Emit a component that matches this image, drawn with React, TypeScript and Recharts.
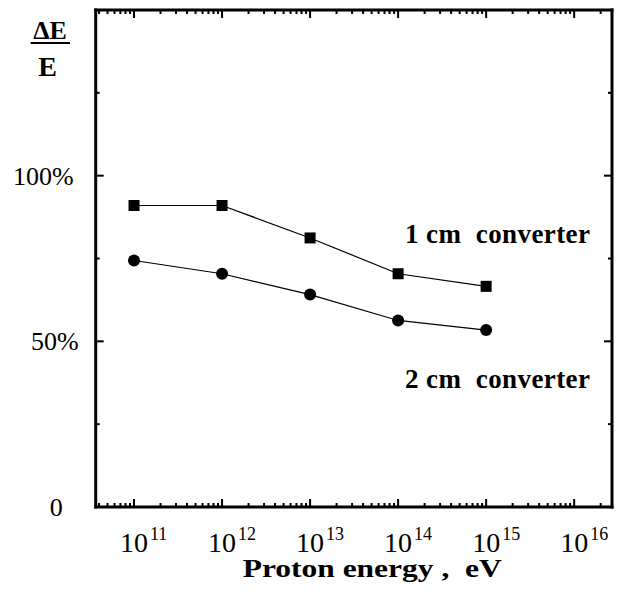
import React from 'react';
import { LineChart, Line, XAxis, YAxis } from 'recharts';

// ---- data ----
const energies = [1e11, 1e12, 1e13, 1e14, 1e15];
const oneCmValues = [91, 91, 81.2, 70.4, 66.6];
const twoCmValues = [74.4, 70.4, 64.1, 56.3, 53.4];

const xMajorTicks = [1e11, 1e12, 1e13, 1e14, 1e15, 1e16];
const xTickExponents = ['11', '12', '13', '14', '15', '16'];
const yMajorTicks = [0, 50, 100];
const yTickLabels = ['0', '50%', '100%'];
const yMinorTicks = [25, 75, 125];

const seriesLabels = ['1 cm  converter', '2 cm  converter'];
const xAxisTitle = 'Proton energy ,  eV';

const X_DOMAIN: [number, number] = [3.67e10, 2.69e16];
const Y_DOMAIN: [number, number] = [0, 150];

const data = energies.map((e, i) => ({ energy: e, oneCm: oneCmValues[i], twoCm: twoCmValues[i] }));

const xMinorTicks: number[] = [];
for (let n = 10; n <= 16; n++) {
  for (let k = 2; k <= 9; k++) {
    const v = k * Math.pow(10, n);
    if (v > X_DOMAIN[0] && v < X_DOMAIN[1]) xMinorTicks.push(v);
  }
}
const xAllTicks = [...xMajorTicks, ...xMinorTicks].sort((a, b) => a - b);
const yAllTicks = [...yMajorTicks, ...yMinorTicks, 150].sort((a, b) => a - b);

const FONT = 'Liberation Serif';
const W = 615;
const H = 585;

const preStyle = { whiteSpace: 'pre' as const };

// per-label right-edge offset from axis line (layout only)
const yLabelOffset: Record<number, number> = { 0: 33, 50: 17, 100: 22 };

const BottomTick = (props: any) => {
  const { x, y, payload } = props;
  const v = payload.value;
  const idx = xMajorTicks.indexOf(v);
  const major = idx >= 0;
  return (
    <g>
      <line x1={x} x2={x} y1={y} y2={y - (major ? 8 : 4)} stroke="#000" strokeWidth={2} />
      {major && (
        <text x={x - 14} y={y + 45} fontFamily={FONT} fontSize={28} fill="#000">
          10
          <tspan dx={2} dy={-12} fontSize={18}>{xTickExponents[idx]}</tspan>
        </text>
      )}
    </g>
  );
};

const TopTick = (props: any) => {
  const { x, y, payload } = props;
  const major = xMajorTicks.indexOf(payload.value) >= 0;
  return <line x1={x} x2={x} y1={y} y2={y + (major ? 8 : 4)} stroke="#000" strokeWidth={2} />;
};

const LeftTick = (props: any) => {
  const { x, y, payload } = props;
  const v = payload.value;
  if (v === 150) return <g />;
  const idx = yMajorTicks.indexOf(v);
  const major = idx >= 0;
  return (
    <g>
      {v !== 0 && <line x1={x} x2={x + (major ? 8 : 4)} y1={y} y2={y} stroke="#000" strokeWidth={2} />}
      {major && (
        <text x={x - yLabelOffset[v]} y={y + 9} textAnchor="end" fontFamily={FONT} fontSize={26} fill="#000">
          {yTickLabels[idx]}
        </text>
      )}
    </g>
  );
};

const RightTick = (props: any) => {
  const { x, y, payload } = props;
  const v = payload.value;
  if (v === 0 || v === 150) return <g />;
  const major = yMajorTicks.indexOf(v) >= 0;
  return <line x1={x} x2={x - (major ? 8 : 4)} y1={y} y2={y} stroke="#000" strokeWidth={2} />;
};

const SquareDot = (props: any) => {
  const { cx, cy, index } = props;
  if (cx == null || cy == null) return <g key={`s${index}`} />;
  return <rect key={`s${index}`} x={cx - 5.5} y={cy - 5.5} width={11} height={11} fill="#000" />;
};

const CircleDot = (props: any) => {
  const { cx, cy, index } = props;
  if (cx == null || cy == null) return <g key={`c${index}`} />;
  return <circle key={`c${index}`} cx={cx} cy={cy} r={6} fill="#000" />;
};

const axisLineStyle = { stroke: '#000', strokeWidth: 3, strokeLinecap: 'square' as const };

export default function App() {
  return (
    <div style={{ position: 'relative', width: W, height: H }}>
      <LineChart width={W} height={H} data={data} margin={{ top: 0, right: 0, bottom: 0, left: 0 }}>
        <XAxis
          xAxisId="bottom"
          dataKey="energy"
          type="number"
          scale="log"
          domain={X_DOMAIN}
          allowDataOverflow
          ticks={xAllTicks}
          interval={0}
          height={86}
          tickSize={0}
          tickMargin={0}
          tickLine={false}
          axisLine={axisLineStyle}
          tick={<BottomTick />}
        />
        <XAxis
          xAxisId="top"
          orientation="top"
          dataKey="energy"
          type="number"
          scale="log"
          domain={X_DOMAIN}
          allowDataOverflow
          ticks={xAllTicks}
          interval={0}
          height={2}
          tickSize={0}
          tickMargin={0}
          tickLine={false}
          axisLine={axisLineStyle}
          tick={<TopTick />}
        />
        <YAxis
          yAxisId="left"
          type="number"
          domain={Y_DOMAIN}
          allowDataOverflow
          ticks={yAllTicks}
          interval={0}
          width={87.7}
          tickSize={0}
          tickMargin={0}
          tickLine={false}
          axisLine={axisLineStyle}
          tick={<LeftTick />}
        />
        <YAxis
          yAxisId="right"
          orientation="right"
          type="number"
          domain={Y_DOMAIN}
          allowDataOverflow
          ticks={yAllTicks}
          interval={0}
          width={11}
          tickSize={0}
          tickMargin={0}
          tickLine={false}
          axisLine={axisLineStyle}
          tick={<RightTick />}
        />
        <Line
          xAxisId="bottom"
          yAxisId="left"
          dataKey="oneCm"
          stroke="#000"
          strokeWidth={1.2}
          dot={SquareDot}
          activeDot={false}
          isAnimationActive={false}
        />
        <Line
          xAxisId="bottom"
          yAxisId="left"
          dataKey="twoCm"
          stroke="#000"
          strokeWidth={1.2}
          dot={CircleDot}
          activeDot={false}
          isAnimationActive={false}
        />
      </LineChart>
      <svg
        width={W}
        height={H}
        style={{ position: 'absolute', left: 0, top: 0, pointerEvents: 'none' }}
      >
        <text x={42} y={31} textAnchor="middle" fontFamily={FONT} fontWeight="bold" fontSize={26} fill="#000">ΔE</text>
        <line x1={22.7} x2={62} y1={35} y2={35} stroke="#000" strokeWidth={2} />
        <text x={39.5} y={68} textAnchor="middle" fontFamily={FONT} fontWeight="bold" fontSize={28} fill="#000">E</text>
        <text x={397} y={234.7} fontFamily={FONT} fontWeight="bold" fontSize={27} fill="#000" textLength={185} lengthAdjust="spacing" style={preStyle}>
          {seriesLabels[0]}
        </text>
        <text x={397} y={380.3} fontFamily={FONT} fontWeight="bold" fontSize={27} fill="#000" textLength={185} lengthAdjust="spacing" style={preStyle}>
          {seriesLabels[1]}
        </text>
        <text x={234.7} y={568.7} fontFamily={FONT} fontWeight="bold" fontSize={26} fill="#000" textLength={259} lengthAdjust="spacingAndGlyphs" style={preStyle}>
          {xAxisTitle}
        </text>
      </svg>
    </div>
  );
}
